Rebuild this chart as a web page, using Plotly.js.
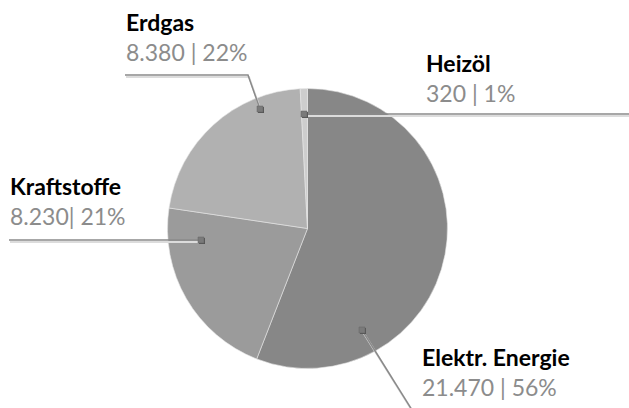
<!DOCTYPE html>
<html>
<head>
<meta charset="utf-8">
<script src="https://cdn.plot.ly/plotly-3.0.1.min.js"></script>
<style>
  body { margin: 0; background: #fff; }
  #chart { width: 629px; height: 408px; }
</style>
</head>
<body>
<div id="chart"></div>
<script>
const W = 629, H = 408;

// data
const labels = ['Elektr. Energie', 'Kraftstoffe', 'Erdgas', 'Heizöl'];
const values = [21470, 8230, 8380, 320];
const valueText = ['21.470 | 56%', '8.230| 21%', '8.380 | 22%', '320 | 1%'];
const colors = ['#878787', '#9b9b9b', '#b1b1b1', '#cdcdcd'];

// label placement in pixels: first baseline, leader path
const labelPos = [
  {tx: 421, ty: 366, path: [[362, 330], [412, 410]]},
  {tx: 9, ty: 195, path: [[9, 240], [201, 240]]},
  {tx: 125, ty: 31, path: [[125, 75], [248, 75], [260, 109]]},
  {tx: 425, ty: 72, path: [[304, 114], [629, 114]]}
];

const px = x => x / W;
const py = y => 1 - y / H;

const font = 'Lato, "Open Sans", sans-serif';
const fs = 23;

const annotations = [];
const shapes = [];

labelPos.forEach((p, i) => {
  annotations.push({
    xref: 'paper', yref: 'paper', x: px(p.tx - 1), y: py(p.ty + 6),
    xanchor: 'left', yanchor: 'middle', align: 'left', showarrow: false,
    text: '<b>' + labels[i] + '</b><br><span style="color:#8c8c8c">' + valueText[i] + '</span>',
    font: {family: font, size: fs, color: '#000'}
  });

  const d = p.path.map((pt, k) => (k ? 'L' : 'M') + px(pt[0]) + ',' + py(pt[1])).join(' ');
  const ds = p.path.map((pt, k) => (k ? 'L' : 'M') + px(pt[0] + 1) + ',' + py(pt[1] + 2)).join(' ');
  shapes.push({type: 'path', xref: 'paper', yref: 'paper', path: ds,
    line: {color: '#dcdcdc', width: 2}});
  shapes.push({type: 'path', xref: 'paper', yref: 'paper', path: d,
    line: {color: '#8a8a8a', width: 1.5}});

  // marker at the slice end of the leader
  const m = (i === 0 || i === 3) ? p.path[0] : p.path[p.path.length - 1];
  shapes.push({type: 'rect', xref: 'paper', yref: 'paper',
    x0: px(m[0] - 2), x1: px(m[0] + 4), y0: py(m[1] - 2), y1: py(m[1] + 4),
    fillcolor: '#555', line: {width: 0}});
  shapes.push({type: 'rect', xref: 'paper', yref: 'paper',
    x0: px(m[0] - 3), x1: px(m[0] + 3), y0: py(m[1] - 3), y1: py(m[1] + 3),
    fillcolor: '#7a7a7a', line: {color: '#666', width: 0.5}});
});

const data = [{
  type: 'pie',
  labels: labels,
  values: values,
  sort: false,
  direction: 'clockwise',
  rotation: 0,
  textinfo: 'none',
  hoverinfo: 'none',
  marker: {colors: colors, line: {color: '#e6e6e6', width: 0.6}},
  domain: {x: [px(167.5), px(447.5)], y: [py(368.5), py(88.5)]}
}];

const layout = {
  width: W,
  height: H,
  margin: {l: 0, r: 0, t: 0, b: 0},
  showlegend: false,
  paper_bgcolor: '#fff',
  annotations: annotations,
  shapes: shapes
};

Plotly.newPlot('chart', data, layout, {displayModeBar: false, staticPlot: true});
</script>
</body>
</html>
